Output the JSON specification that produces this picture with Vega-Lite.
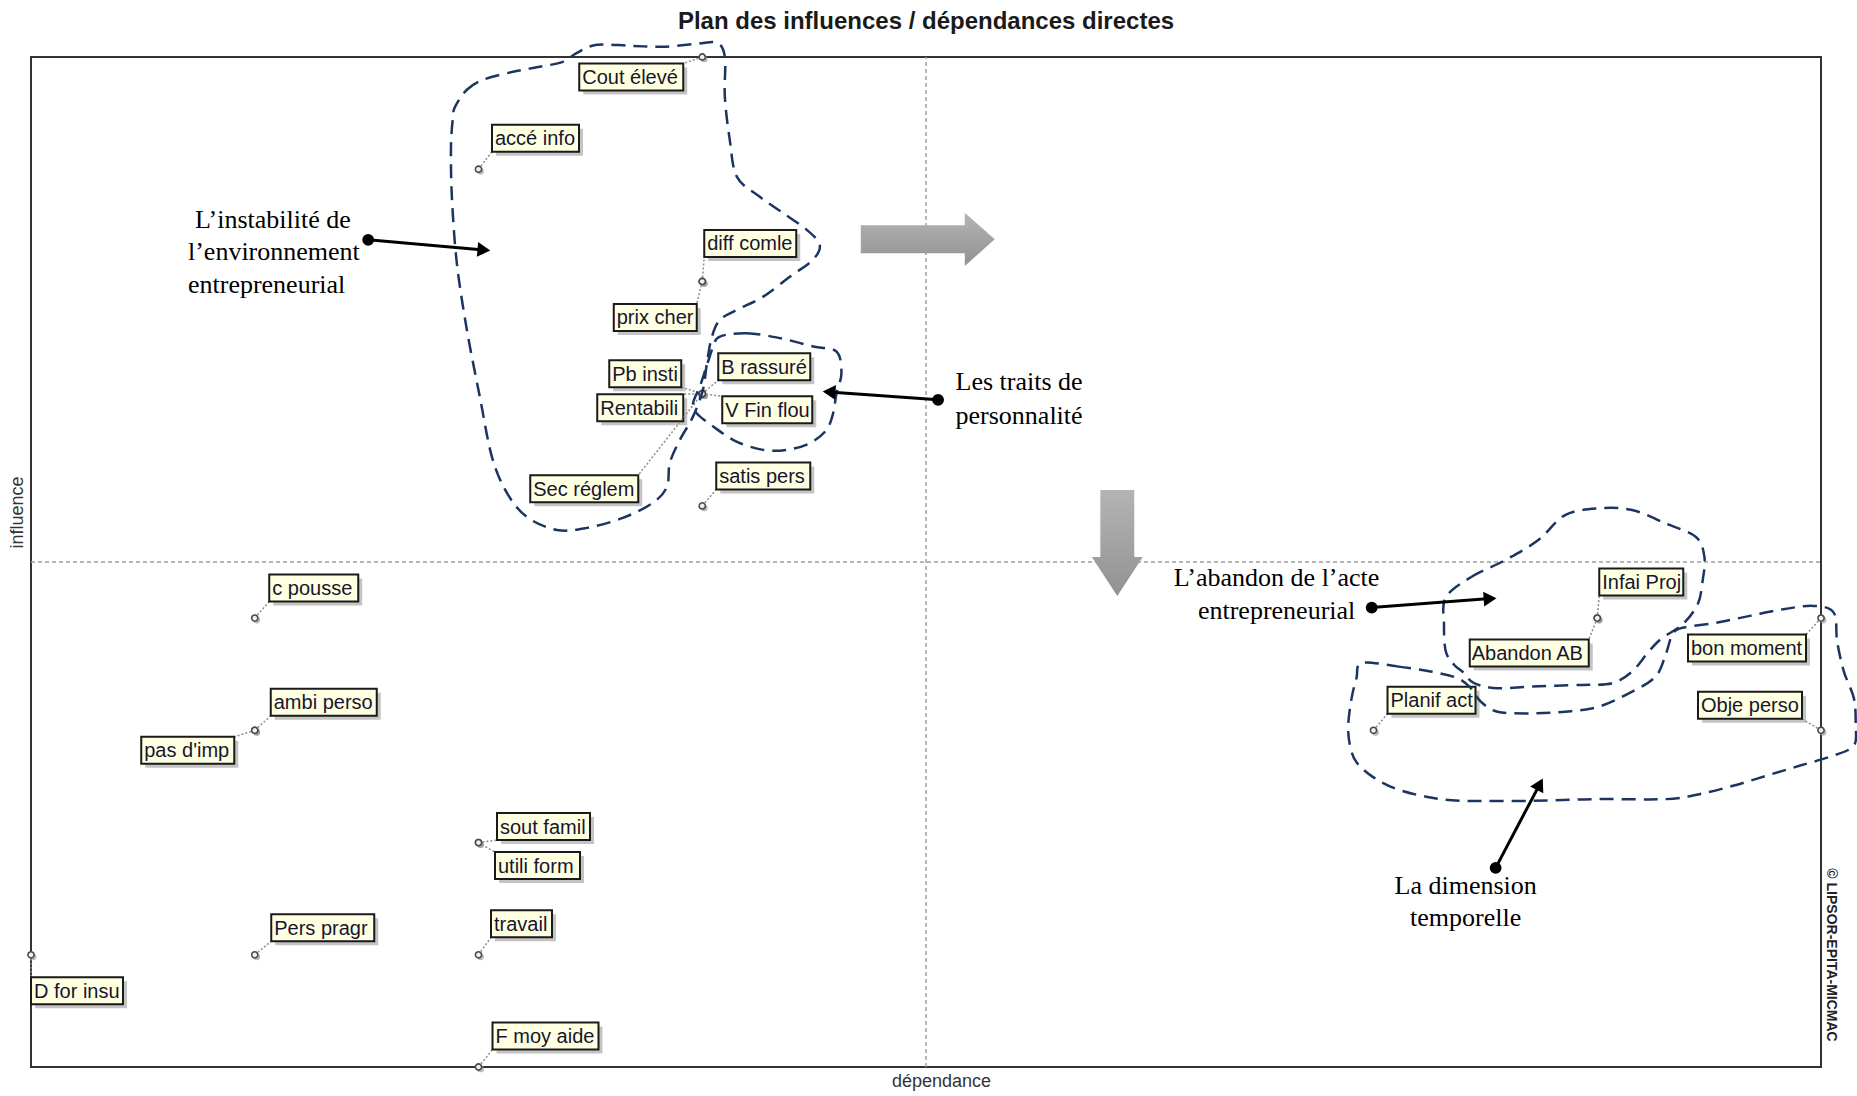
{
"$schema":"https://vega.github.io/schema/vega-lite/v6.json",
"width":1790,"height":1010,
"autosize":{"type":"none"},
"padding":{"left":31,"top":57,"right":36,"bottom":29},
"background":"white",
"title":{"text":"Plan des influences / dépendances directes","font":"Liberation Sans Narrow, Arial Narrow, Liberation Sans","fontSize":24,"fontWeight":"bold","color":"#1a1a1a","anchor":"middle","frame":"group","offset":3},
"config":{"view":{"stroke":"#333333","strokeWidth":2},"point":{"opacity":1},"text":{"font":"Liberation Sans","fontSize":20,"color":"#161630"}},
"datasets":{
"vars":[{"label":"Cout élevé","dep":3,"inf":9},{"label":"accé info","dep":2,"inf":8},{"label":"diff comle","dep":3,"inf":7},{"label":"prix cher","dep":3,"inf":7},{"label":"Pb insti","dep":3,"inf":6},{"label":"Rentabili","dep":3,"inf":6},{"label":"B rassuré","dep":3,"inf":6},{"label":"V Fin flou","dep":3,"inf":6},{"label":"Sec réglem","dep":3,"inf":6},{"label":"satis pers","dep":3,"inf":5},{"label":"c pousse","dep":1,"inf":4},{"label":"ambi perso","dep":1,"inf":3},{"label":"pas d'imp","dep":1,"inf":3},{"label":"sout famil","dep":2,"inf":2},{"label":"utili form","dep":2,"inf":2},{"label":"Pers pragr","dep":1,"inf":1},{"label":"travail","dep":2,"inf":1},{"label":"D for insu","dep":0,"inf":1},{"label":"F moy aide","dep":2,"inf":0},{"label":"Infai Proj","dep":7,"inf":4},{"label":"Abandon AB","dep":7,"inf":4},{"label":"bon moment","dep":8,"inf":4},{"label":"Obje perso","dep":8,"inf":3},{"label":"Planif act","dep":6,"inf":3}],
"mid":[{"dep":4,"inf":0,"dep2":4,"inf2":9},{"dep":0,"inf":4.5,"dep2":8,"inf2":4.5}],
"blocks":[{"b":"right","dep":4.008,"inf":7.375},{"b":"down","dep":4.855,"inf":4.670}],
"arrows":[{"dep":1.507,"inf":7.371,"dep2":2.024,"inf2":7.280},{"dep":4.054,"inf":5.945,"dep2":3.567,"inf2":6.015},{"dep":5.992,"inf":4.094,"dep2":6.521,"inf2":4.174},{"dep":6.546,"inf":1.774,"dep2":6.743,"inf2":2.520}],
"heads":[{"a":"instab","dep":2.024,"inf":7.280},{"a":"traits","dep":3.567,"inf":6.015},{"a":"abandon","dep":6.521,"inf":4.174},{"a":"dimension","dep":6.743,"inf":2.520}],
"notes":[{"g":"instab","t":"L’instabilité  de","dep":0.733,"inf":7.549},{"g":"instab","t":"l’environnement","dep":0.7015,"inf":7.264},{"g":"instab","t":"entrepreneurial","dep":0.7015,"inf":6.970},{"g":"traits","t":"Les traits de","dep":4.132,"inf":6.101},{"g":"traits","t":"personnalité","dep":4.132,"inf":5.805},{"g":"abandon","t":"L’abandon de l’acte","dep":5.567,"inf":4.358},{"g":"abandon","t":"entrepreneurial","dep":5.567,"inf":4.064},{"g":"dimension","t":"La dimension","dep":6.412,"inf":1.613},{"g":"dimension","t":"temporelle","dep":6.412,"inf":1.328},{"g":"copy","t":"© LIPSOR-EPITA-MICMAC","dep":8.043,"inf":0.998}],
"curves":[
{"c":"instab","o":1,"dep":1.895,"inf":8.556},{"c":"instab","o":2,"dep":1.948,"inf":8.708},{"c":"instab","o":3,"dep":2.020,"inf":8.797},{"c":"instab","o":4,"dep":2.154,"inf":8.868},{"c":"instab","o":5,"dep":2.274,"inf":8.913},{"c":"instab","o":6,"dep":2.377,"inf":8.957},{"c":"instab","o":7,"dep":2.440,"inf":9.037},{"c":"instab","o":8,"dep":2.529,"inf":9.109},{"c":"instab","o":9,"dep":2.677,"inf":9.100},{"c":"instab","o":10,"dep":2.824,"inf":9.091},{"c":"instab","o":11,"dep":2.976,"inf":9.118},{"c":"instab","o":12,"dep":3.065,"inf":9.127},{"c":"instab","o":13,"dep":3.101,"inf":9.002},{"c":"instab","o":14,"dep":3.101,"inf":8.645},{"c":"instab","o":15,"dep":3.123,"inf":8.262},{"c":"instab","o":16,"dep":3.155,"inf":7.932},{"c":"instab","o":17,"dep":3.257,"inf":7.754},{"c":"instab","o":18,"dep":3.360,"inf":7.611},{"c":"instab","o":19,"dep":3.467,"inf":7.460},{"c":"instab","o":20,"dep":3.525,"inf":7.326},{"c":"instab","o":21,"dep":3.494,"inf":7.193},{"c":"instab","o":22,"dep":3.391,"inf":7.041},{"c":"instab","o":23,"dep":3.271,"inf":6.863},{"c":"instab","o":24,"dep":3.155,"inf":6.747},{"c":"instab","o":25,"dep":3.079,"inf":6.658},{"c":"instab","o":26,"dep":3.043,"inf":6.506},{"c":"instab","o":27,"dep":3.021,"inf":6.275},{"c":"instab","o":28,"dep":3.003,"inf":6.034},{"c":"instab","o":29,"dep":2.958,"inf":5.793},{"c":"instab","o":30,"dep":2.900,"inf":5.588},{"c":"instab","o":31,"dep":2.855,"inf":5.383},{"c":"instab","o":32,"dep":2.842,"inf":5.169},{"c":"instab","o":33,"dep":2.779,"inf":5.027},{"c":"instab","o":34,"dep":2.645,"inf":4.893},{"c":"instab","o":35,"dep":2.484,"inf":4.804},{"c":"instab","o":36,"dep":2.350,"inf":4.786},{"c":"instab","o":37,"dep":2.216,"inf":4.902},{"c":"instab","o":38,"dep":2.127,"inf":5.116},{"c":"instab","o":39,"dep":2.060,"inf":5.437},{"c":"instab","o":40,"dep":2.006,"inf":5.971},{"c":"instab","o":41,"dep":1.948,"inf":6.569},{"c":"instab","o":42,"dep":1.903,"inf":7.166},{"c":"instab","o":43,"dep":1.881,"inf":7.754},{"c":"instab","o":44,"dep":1.877,"inf":8.200},{"c":"instab","o":45,"dep":1.886,"inf":8.467},
{"c":"traits","o":1,"dep":3.079,"inf":6.509},{"c":"traits","o":2,"dep":3.198,"inf":6.539},{"c":"traits","o":3,"dep":3.347,"inf":6.495},{"c":"traits","o":4,"dep":3.496,"inf":6.420},{"c":"traits","o":5,"dep":3.600,"inf":6.375},{"c":"traits","o":6,"dep":3.622,"inf":6.183},{"c":"traits","o":7,"dep":3.600,"inf":6.004},{"c":"traits","o":8,"dep":3.585,"inf":5.826},{"c":"traits","o":9,"dep":3.555,"inf":5.677},{"c":"traits","o":10,"dep":3.481,"inf":5.559},{"c":"traits","o":11,"dep":3.377,"inf":5.499},{"c":"traits","o":12,"dep":3.272,"inf":5.499},{"c":"traits","o":13,"dep":3.153,"inf":5.573},{"c":"traits","o":14,"dep":3.049,"inf":5.707},{"c":"traits","o":15,"dep":2.975,"inf":5.826},{"c":"traits","o":16,"dep":2.959,"inf":5.915},{"c":"traits","o":17,"dep":2.989,"inf":6.063},{"c":"traits","o":18,"dep":3.019,"inf":6.242},{"c":"traits","o":19,"dep":3.049,"inf":6.420},
{"c":"abandon","o":1,"dep":6.323,"inf":4.184},{"c":"abandon","o":2,"dep":6.435,"inf":4.364},{"c":"abandon","o":3,"dep":6.585,"inf":4.513},{"c":"abandon","o":4,"dep":6.735,"inf":4.693},{"c":"abandon","o":5,"dep":6.856,"inf":4.918},{"c":"abandon","o":6,"dep":7.006,"inf":4.978},{"c":"abandon","o":7,"dep":7.156,"inf":4.963},{"c":"abandon","o":8,"dep":7.306,"inf":4.843},{"c":"abandon","o":9,"dep":7.441,"inf":4.723},{"c":"abandon","o":10,"dep":7.479,"inf":4.544},{"c":"abandon","o":11,"dep":7.471,"inf":4.333},{"c":"abandon","o":12,"dep":7.449,"inf":4.124},{"c":"abandon","o":13,"dep":7.381,"inf":3.944},{"c":"abandon","o":14,"dep":7.291,"inf":3.824},{"c":"abandon","o":15,"dep":7.231,"inf":3.705},{"c":"abandon","o":16,"dep":7.156,"inf":3.525},{"c":"abandon","o":17,"dep":7.066,"inf":3.420},{"c":"abandon","o":18,"dep":6.931,"inf":3.405},{"c":"abandon","o":19,"dep":6.706,"inf":3.390},{"c":"abandon","o":20,"dep":6.555,"inf":3.375},{"c":"abandon","o":21,"dep":6.450,"inf":3.420},{"c":"abandon","o":22,"dep":6.405,"inf":3.510},{"c":"abandon","o":23,"dep":6.360,"inf":3.585},{"c":"abandon","o":24,"dep":6.323,"inf":3.705},{"c":"abandon","o":25,"dep":6.315,"inf":3.944},
{"c":"temp","o":1,"dep":5.947,"inf":3.600},{"c":"temp","o":2,"dep":6.105,"inf":3.570},{"c":"temp","o":3,"dep":6.255,"inf":3.525},{"c":"temp","o":4,"dep":6.375,"inf":3.465},{"c":"temp","o":5,"dep":6.435,"inf":3.375},{"c":"temp","o":6,"dep":6.480,"inf":3.255},{"c":"temp","o":7,"dep":6.555,"inf":3.166},{"c":"temp","o":8,"dep":6.706,"inf":3.151},{"c":"temp","o":9,"dep":6.856,"inf":3.166},{"c":"temp","o":10,"dep":7.006,"inf":3.210},{"c":"temp","o":11,"dep":7.156,"inf":3.345},{"c":"temp","o":12,"dep":7.261,"inf":3.480},{"c":"temp","o":13,"dep":7.306,"inf":3.675},{"c":"temp","o":14,"dep":7.336,"inf":3.855},{"c":"temp","o":15,"dep":7.381,"inf":3.914},{"c":"temp","o":16,"dep":7.532,"inf":3.959},{"c":"temp","o":17,"dep":7.682,"inf":4.020},{"c":"temp","o":18,"dep":7.832,"inf":4.079},{"c":"temp","o":19,"dep":7.967,"inf":4.109},{"c":"temp","o":20,"dep":8.057,"inf":4.049},{"c":"temp","o":21,"dep":8.072,"inf":3.794},{"c":"temp","o":22,"dep":8.102,"inf":3.525},{"c":"temp","o":23,"dep":8.147,"inf":3.285},{"c":"temp","o":24,"dep":8.155,"inf":3.045},{"c":"temp","o":25,"dep":8.147,"inf":2.865},{"c":"temp","o":26,"dep":8.057,"inf":2.776},{"c":"temp","o":27,"dep":7.907,"inf":2.686},{"c":"temp","o":28,"dep":7.757,"inf":2.596},{"c":"temp","o":29,"dep":7.607,"inf":2.506},{"c":"temp","o":30,"dep":7.456,"inf":2.431},{"c":"temp","o":31,"dep":7.306,"inf":2.387},{"c":"temp","o":32,"dep":7.006,"inf":2.387},{"c":"temp","o":33,"dep":6.706,"inf":2.372},{"c":"temp","o":34,"dep":6.405,"inf":2.372},{"c":"temp","o":35,"dep":6.255,"inf":2.401},{"c":"temp","o":36,"dep":6.105,"inf":2.476},{"c":"temp","o":37,"dep":6.000,"inf":2.581},{"c":"temp","o":38,"dep":5.924,"inf":2.716},{"c":"temp","o":39,"dep":5.895,"inf":2.865},{"c":"temp","o":40,"dep":5.887,"inf":3.045},{"c":"temp","o":41,"dep":5.902,"inf":3.285},{"c":"temp","o":42,"dep":5.924,"inf":3.465}
]
},
"encoding":{
"x":{"field":"dep","type":"quantitative","scale":{"domain":[0,8],"nice":false,"zero":false},"axis":{"title":"dépendance","domain":false,"ticks":false,"labels":false,"grid":false,"titleFont":"Liberation Sans","titleFontSize":18,"titleFontWeight":"normal","titleColor":"#333333","titleX":910,"titleY":14,"titleBaseline":"middle","titleAlign":"center"}},
"y":{"field":"inf","type":"quantitative","scale":{"domain":[0,9],"nice":false,"zero":false},"axis":{"title":"influence","domain":false,"ticks":false,"labels":false,"grid":false,"titleFont":"Liberation Sans","titleFontSize":18,"titleFontWeight":"normal","titleColor":"#333333","titleX":-14,"titleY":455,"titleAngle":-90,"titleBaseline":"middle","titleAlign":"center"}}
},
"layer":[
{"data":{"name":"mid"},"mark":{"type":"rule","color":"#a0a0a0","strokeDash":[4,3],"strokeWidth":1.5},"encoding":{"x2":{"field":"dep2"},"y2":{"field":"inf2"}}},
{"data":{"name":"blocks"},"transform":[{"filter":{"field":"b","equal":"right"}}],"mark":{"type":"point","shape":"M-1,-0.209L0.552,-0.209L0.552,-0.396L1,0L0.552,0.396L0.552,0.209L-1,0.209Z","size":17956,"filled":true,"opacity":1,"strokeWidth":0,"fill":{"gradient":"linear","x1":0,"y1":0,"x2":0,"y2":1,"stops":[{"offset":0,"color":"#b4b4b4"},{"offset":1,"color":"#929292"}]}}},
{"data":{"name":"blocks"},"transform":[{"filter":{"field":"b","equal":"down"}}],"mark":{"type":"point","shape":"M-0.32,-1L0.32,-1L0.32,0.264L0.481,0.264L0,1L-0.481,0.264L-0.32,0.264Z","size":11236,"filled":true,"opacity":1,"strokeWidth":0,"fill":{"gradient":"linear","x1":0,"y1":0,"x2":0,"y2":1,"stops":[{"offset":0,"color":"#b4b4b4"},{"offset":1,"color":"#929292"}]}}},
{"data":{"name":"vars"},"transform":[{"filter":{"field":"label","equal":"Cout élevé"}}],"layer":[
{"mark":{"type":"rule","color":"#8c8c8c","strokeDash":[2,2],"strokeWidth":1.5,"x2Offset":-19,"y2Offset":6.5},"encoding":{"x2":{"field":"dep"},"y2":{"field":"inf"}}},
{"mark":{"type":"point","shape":"M-1,-0.2596L1,-0.2596L1,0.2596L-1,0.2596Z","size":10816,"filled":true,"color":"#8a8a8a","opacity":0.5,"xOffset":-67,"yOffset":24}},
{"mark":{"type":"point","shape":"M-1,-0.2596L1,-0.2596L1,0.2596L-1,0.2596Z","size":10816,"filled":true,"fill":"#FFFFE1","stroke":"#1a1a1a","strokeWidth":2,"opacity":1,"xOffset":-71,"yOffset":20}},
{"mark":{"type":"text","align":"left","baseline":"middle","dx":-120,"dy":21},"encoding":{"text":{"field":"label"}}}]},
{"data":{"name":"vars"},"transform":[{"filter":{"field":"label","equal":"accé info"}}],"layer":[
{"mark":{"type":"rule","color":"#8c8c8c","strokeDash":[2,2],"strokeWidth":1.5,"x2Offset":13.5,"y2Offset":-17.5},"encoding":{"x2":{"field":"dep"},"y2":{"field":"inf"}}},
{"mark":{"type":"point","shape":"M-1,-0.3103L1,-0.3103L1,0.3103L-1,0.3103Z","size":7569,"filled":true,"color":"#8a8a8a","opacity":0.5,"xOffset":61,"yOffset":-27}},
{"mark":{"type":"point","shape":"M-1,-0.3103L1,-0.3103L1,0.3103L-1,0.3103Z","size":7569,"filled":true,"fill":"#FFFFE1","stroke":"#1a1a1a","strokeWidth":2,"opacity":1,"xOffset":57,"yOffset":-31}},
{"mark":{"type":"text","align":"left","baseline":"middle","dx":16.5,"dy":-30},"encoding":{"text":{"field":"label"}}}]},
{"data":{"name":"vars"},"transform":[{"filter":{"field":"label","equal":"diff comle"}}],"layer":[
{"mark":{"type":"rule","color":"#8c8c8c","strokeDash":[2,2],"strokeWidth":1.5,"x2Offset":2,"y2Offset":-24.5},"encoding":{"x2":{"field":"dep"},"y2":{"field":"inf"}}},
{"mark":{"type":"point","shape":"M-1,-0.2935L1,-0.2935L1,0.2935L-1,0.2935Z","size":8464,"filled":true,"color":"#8a8a8a","opacity":0.5,"xOffset":52,"yOffset":-34}},
{"mark":{"type":"point","shape":"M-1,-0.2935L1,-0.2935L1,0.2935L-1,0.2935Z","size":8464,"filled":true,"fill":"#FFFFE1","stroke":"#1a1a1a","strokeWidth":2,"opacity":1,"xOffset":48,"yOffset":-38}},
{"mark":{"type":"text","align":"left","baseline":"middle","dx":5,"dy":-37},"encoding":{"text":{"field":"label"}}}]},
{"data":{"name":"vars"},"transform":[{"filter":{"field":"label","equal":"prix cher"}}],"layer":[
{"mark":{"type":"rule","color":"#8c8c8c","strokeDash":[2,2],"strokeWidth":1.5,"x2Offset":-5.5,"y2Offset":22.5},"encoding":{"x2":{"field":"dep"},"y2":{"field":"inf"}}},
{"mark":{"type":"point","shape":"M-1,-0.3253L1,-0.3253L1,0.3253L-1,0.3253Z","size":6889,"filled":true,"color":"#8a8a8a","opacity":0.5,"xOffset":-43,"yOffset":40}},
{"mark":{"type":"point","shape":"M-1,-0.3253L1,-0.3253L1,0.3253L-1,0.3253Z","size":6889,"filled":true,"fill":"#FFFFE1","stroke":"#1a1a1a","strokeWidth":2,"opacity":1,"xOffset":-47,"yOffset":36}},
{"mark":{"type":"text","align":"left","baseline":"middle","dx":-85.5,"dy":37},"encoding":{"text":{"field":"label"}}}]},
{"data":{"name":"vars"},"transform":[{"filter":{"field":"label","equal":"Pb insti"}}],"layer":[
{"mark":{"type":"rule","color":"#8c8c8c","strokeDash":[2,2],"strokeWidth":1.5,"x2Offset":-21,"y2Offset":-6.5},"encoding":{"x2":{"field":"dep"},"y2":{"field":"inf"}}},
{"mark":{"type":"point","shape":"M-1,-0.375L1,-0.375L1,0.375L-1,0.375Z","size":5184,"filled":true,"color":"#8a8a8a","opacity":0.5,"xOffset":-53,"yOffset":-16}},
{"mark":{"type":"point","shape":"M-1,-0.375L1,-0.375L1,0.375L-1,0.375Z","size":5184,"filled":true,"fill":"#FFFFE1","stroke":"#1a1a1a","strokeWidth":2,"opacity":1,"xOffset":-57,"yOffset":-20}},
{"mark":{"type":"text","align":"left","baseline":"middle","dx":-90,"dy":-19},"encoding":{"text":{"field":"label"}}}]},
{"data":{"name":"vars"},"transform":[{"filter":{"field":"label","equal":"Rentabili"}}],"layer":[
{"mark":{"type":"rule","color":"#8c8c8c","strokeDash":[2,2],"strokeWidth":1.5,"x2Offset":-19,"y2Offset":0.5},"encoding":{"x2":{"field":"dep"},"y2":{"field":"inf"}}},
{"mark":{"type":"point","shape":"M-1,-0.314L1,-0.314L1,0.314L-1,0.314Z","size":7396,"filled":true,"color":"#8a8a8a","opacity":0.5,"xOffset":-58,"yOffset":18}},
{"mark":{"type":"point","shape":"M-1,-0.314L1,-0.314L1,0.314L-1,0.314Z","size":7396,"filled":true,"fill":"#FFFFE1","stroke":"#1a1a1a","strokeWidth":2,"opacity":1,"xOffset":-62,"yOffset":14}},
{"mark":{"type":"text","align":"left","baseline":"middle","dx":-102,"dy":15},"encoding":{"text":{"field":"label"}}}]},
{"data":{"name":"vars"},"transform":[{"filter":{"field":"label","equal":"B rassuré"}}],"layer":[
{"mark":{"type":"rule","color":"#8c8c8c","strokeDash":[2,2],"strokeWidth":1.5,"x2Offset":16,"y2Offset":-13.5},"encoding":{"x2":{"field":"dep"},"y2":{"field":"inf"}}},
{"mark":{"type":"point","shape":"M-1,-0.2935L1,-0.2935L1,0.2935L-1,0.2935Z","size":8464,"filled":true,"color":"#8a8a8a","opacity":0.5,"xOffset":66,"yOffset":-23}},
{"mark":{"type":"point","shape":"M-1,-0.2935L1,-0.2935L1,0.2935L-1,0.2935Z","size":8464,"filled":true,"fill":"#FFFFE1","stroke":"#1a1a1a","strokeWidth":2,"opacity":1,"xOffset":62,"yOffset":-27}},
{"mark":{"type":"text","align":"left","baseline":"middle","dx":19,"dy":-26},"encoding":{"text":{"field":"label"}}}]},
{"data":{"name":"vars"},"transform":[{"filter":{"field":"label","equal":"V Fin flou"}}],"layer":[
{"mark":{"type":"rule","color":"#8c8c8c","strokeDash":[2,2],"strokeWidth":1.5,"x2Offset":20,"y2Offset":2.5},"encoding":{"x2":{"field":"dep"},"y2":{"field":"inf"}}},
{"mark":{"type":"point","shape":"M-1,-0.3L1,-0.3L1,0.3L-1,0.3Z","size":8100,"filled":true,"color":"#8a8a8a","opacity":0.5,"xOffset":69,"yOffset":20}},
{"mark":{"type":"point","shape":"M-1,-0.3L1,-0.3L1,0.3L-1,0.3Z","size":8100,"filled":true,"fill":"#FFFFE1","stroke":"#1a1a1a","strokeWidth":2,"opacity":1,"xOffset":65,"yOffset":16}},
{"mark":{"type":"text","align":"left","baseline":"middle","dx":23,"dy":17},"encoding":{"text":{"field":"label"}}}]},
{"data":{"name":"vars"},"transform":[{"filter":{"field":"label","equal":"Sec réglem"}}],"layer":[
{"mark":{"type":"rule","color":"#8c8c8c","strokeDash":[2,2],"strokeWidth":1.5,"x2Offset":-64,"y2Offset":81.5},"encoding":{"x2":{"field":"dep"},"y2":{"field":"inf"}}},
{"mark":{"type":"point","shape":"M-1,-0.25L1,-0.25L1,0.25L-1,0.25Z","size":11664,"filled":true,"color":"#8a8a8a","opacity":0.5,"xOffset":-114,"yOffset":99}},
{"mark":{"type":"point","shape":"M-1,-0.25L1,-0.25L1,0.25L-1,0.25Z","size":11664,"filled":true,"fill":"#FFFFE1","stroke":"#1a1a1a","strokeWidth":2,"opacity":1,"xOffset":-118,"yOffset":95}},
{"mark":{"type":"text","align":"left","baseline":"middle","dx":-169,"dy":96},"encoding":{"text":{"field":"label"}}}]},
{"data":{"name":"vars"},"transform":[{"filter":{"field":"label","equal":"satis pers"}}],"layer":[
{"mark":{"type":"rule","color":"#8c8c8c","strokeDash":[2,2],"strokeWidth":1.5,"x2Offset":14,"y2Offset":-16.5},"encoding":{"x2":{"field":"dep"},"y2":{"field":"inf"}}},
{"mark":{"type":"point","shape":"M-1,-0.2872L1,-0.2872L1,0.2872L-1,0.2872Z","size":8836,"filled":true,"color":"#8a8a8a","opacity":0.5,"xOffset":65,"yOffset":-26}},
{"mark":{"type":"point","shape":"M-1,-0.2872L1,-0.2872L1,0.2872L-1,0.2872Z","size":8836,"filled":true,"fill":"#FFFFE1","stroke":"#1a1a1a","strokeWidth":2,"opacity":1,"xOffset":61,"yOffset":-30}},
{"mark":{"type":"text","align":"left","baseline":"middle","dx":17,"dy":-29},"encoding":{"text":{"field":"label"}}}]},
{"data":{"name":"vars"},"transform":[{"filter":{"field":"label","equal":"c pousse"}}],"layer":[
{"mark":{"type":"rule","color":"#8c8c8c","strokeDash":[2,2],"strokeWidth":1.5,"x2Offset":14.5,"y2Offset":-16.5},"encoding":{"x2":{"field":"dep"},"y2":{"field":"inf"}}},
{"mark":{"type":"point","shape":"M-1,-0.3034L1,-0.3034L1,0.3034L-1,0.3034Z","size":7921,"filled":true,"color":"#8a8a8a","opacity":0.5,"xOffset":63,"yOffset":-26}},
{"mark":{"type":"point","shape":"M-1,-0.3034L1,-0.3034L1,0.3034L-1,0.3034Z","size":7921,"filled":true,"fill":"#FFFFE1","stroke":"#1a1a1a","strokeWidth":2,"opacity":1,"xOffset":59,"yOffset":-30}},
{"mark":{"type":"text","align":"left","baseline":"middle","dx":17.5,"dy":-29},"encoding":{"text":{"field":"label"}}}]},
{"data":{"name":"vars"},"transform":[{"filter":{"field":"label","equal":"ambi perso"}}],"layer":[
{"mark":{"type":"rule","color":"#8c8c8c","strokeDash":[2,2],"strokeWidth":1.5,"x2Offset":16,"y2Offset":-14.5},"encoding":{"x2":{"field":"dep"},"y2":{"field":"inf"}}},
{"mark":{"type":"point","shape":"M-1,-0.2547L1,-0.2547L1,0.2547L-1,0.2547Z","size":11236,"filled":true,"color":"#8a8a8a","opacity":0.5,"xOffset":73,"yOffset":-24}},
{"mark":{"type":"point","shape":"M-1,-0.2547L1,-0.2547L1,0.2547L-1,0.2547Z","size":11236,"filled":true,"fill":"#FFFFE1","stroke":"#1a1a1a","strokeWidth":2,"opacity":1,"xOffset":69,"yOffset":-28}},
{"mark":{"type":"text","align":"left","baseline":"middle","dx":19,"dy":-27},"encoding":{"text":{"field":"label"}}}]},
{"data":{"name":"vars"},"transform":[{"filter":{"field":"label","equal":"pas d'imp"}}],"layer":[
{"mark":{"type":"rule","color":"#8c8c8c","strokeDash":[2,2],"strokeWidth":1.5,"x2Offset":-20.5,"y2Offset":6.5},"encoding":{"x2":{"field":"dep"},"y2":{"field":"inf"}}},
{"mark":{"type":"point","shape":"M-1,-0.2903L1,-0.2903L1,0.2903L-1,0.2903Z","size":8649,"filled":true,"color":"#8a8a8a","opacity":0.5,"xOffset":-63,"yOffset":24}},
{"mark":{"type":"point","shape":"M-1,-0.2903L1,-0.2903L1,0.2903L-1,0.2903Z","size":8649,"filled":true,"fill":"#FFFFE1","stroke":"#1a1a1a","strokeWidth":2,"opacity":1,"xOffset":-67,"yOffset":20}},
{"mark":{"type":"text","align":"left","baseline":"middle","dx":-110.5,"dy":21},"encoding":{"text":{"field":"label"}}}]},
{"data":{"name":"vars"},"transform":[{"filter":{"field":"label","equal":"sout famil"}}],"layer":[
{"mark":{"type":"rule","color":"#8c8c8c","strokeDash":[2,2],"strokeWidth":1.5,"x2Offset":18.5,"y2Offset":-2.5},"encoding":{"x2":{"field":"dep"},"y2":{"field":"inf"}}},
{"mark":{"type":"point","shape":"M-1,-0.2903L1,-0.2903L1,0.2903L-1,0.2903Z","size":8649,"filled":true,"color":"#8a8a8a","opacity":0.5,"xOffset":69,"yOffset":-12}},
{"mark":{"type":"point","shape":"M-1,-0.2903L1,-0.2903L1,0.2903L-1,0.2903Z","size":8649,"filled":true,"fill":"#FFFFE1","stroke":"#1a1a1a","strokeWidth":2,"opacity":1,"xOffset":65,"yOffset":-16}},
{"mark":{"type":"text","align":"left","baseline":"middle","dx":21.5,"dy":-15},"encoding":{"text":{"field":"label"}}}]},
{"data":{"name":"vars"},"transform":[{"filter":{"field":"label","equal":"utili form"}}],"layer":[
{"mark":{"type":"rule","color":"#8c8c8c","strokeDash":[2,2],"strokeWidth":1.5,"x2Offset":16.5,"y2Offset":9.5},"encoding":{"x2":{"field":"dep"},"y2":{"field":"inf"}}},
{"mark":{"type":"point","shape":"M-1,-0.3176L1,-0.3176L1,0.3176L-1,0.3176Z","size":7225,"filled":true,"color":"#8a8a8a","opacity":0.5,"xOffset":63,"yOffset":27}},
{"mark":{"type":"point","shape":"M-1,-0.3176L1,-0.3176L1,0.3176L-1,0.3176Z","size":7225,"filled":true,"fill":"#FFFFE1","stroke":"#1a1a1a","strokeWidth":2,"opacity":1,"xOffset":59,"yOffset":23}},
{"mark":{"type":"text","align":"left","baseline":"middle","dx":19.5,"dy":24},"encoding":{"text":{"field":"label"}}}]},
{"data":{"name":"vars"},"transform":[{"filter":{"field":"label","equal":"Pers pragr"}}],"layer":[
{"mark":{"type":"rule","color":"#8c8c8c","strokeDash":[2,2],"strokeWidth":1.5,"x2Offset":16.5,"y2Offset":-13.5},"encoding":{"x2":{"field":"dep"},"y2":{"field":"inf"}}},
{"mark":{"type":"point","shape":"M-1,-0.2621L1,-0.2621L1,0.2621L-1,0.2621Z","size":10609,"filled":true,"color":"#8a8a8a","opacity":0.5,"xOffset":72,"yOffset":-23}},
{"mark":{"type":"point","shape":"M-1,-0.2621L1,-0.2621L1,0.2621L-1,0.2621Z","size":10609,"filled":true,"fill":"#FFFFE1","stroke":"#1a1a1a","strokeWidth":2,"opacity":1,"xOffset":68,"yOffset":-27}},
{"mark":{"type":"text","align":"left","baseline":"middle","dx":19.5,"dy":-26},"encoding":{"text":{"field":"label"}}}]},
{"data":{"name":"vars"},"transform":[{"filter":{"field":"label","equal":"travail"}}],"layer":[
{"mark":{"type":"rule","color":"#8c8c8c","strokeDash":[2,2],"strokeWidth":1.5,"x2Offset":12.5,"y2Offset":-17.5},"encoding":{"x2":{"field":"dep"},"y2":{"field":"inf"}}},
{"mark":{"type":"point","shape":"M-1,-0.4426L1,-0.4426L1,0.4426L-1,0.4426Z","size":3721,"filled":true,"color":"#8a8a8a","opacity":0.5,"xOffset":47,"yOffset":-27}},
{"mark":{"type":"point","shape":"M-1,-0.4426L1,-0.4426L1,0.4426L-1,0.4426Z","size":3721,"filled":true,"fill":"#FFFFE1","stroke":"#1a1a1a","strokeWidth":2,"opacity":1,"xOffset":43,"yOffset":-31}},
{"mark":{"type":"text","align":"left","baseline":"middle","dx":15.5,"dy":-30},"encoding":{"text":{"field":"label"}}}]},
{"data":{"name":"vars"},"transform":[{"filter":{"field":"label","equal":"D for insu"}}],"layer":[
{"mark":{"type":"rule","color":"#8c8c8c","strokeDash":[2,2],"strokeWidth":1.5,"x2Offset":0,"y2Offset":22.5},"encoding":{"x2":{"field":"dep"},"y2":{"field":"inf"}}},
{"mark":{"type":"point","shape":"M-1,-0.2935L1,-0.2935L1,0.2935L-1,0.2935Z","size":8464,"filled":true,"color":"#8a8a8a","opacity":0.5,"xOffset":50,"yOffset":40}},
{"mark":{"type":"point","shape":"M-1,-0.2935L1,-0.2935L1,0.2935L-1,0.2935Z","size":8464,"filled":true,"fill":"#FFFFE1","stroke":"#1a1a1a","strokeWidth":2,"opacity":1,"xOffset":46,"yOffset":36}},
{"mark":{"type":"text","align":"left","baseline":"middle","dx":3,"dy":37},"encoding":{"text":{"field":"label"}}}]},
{"data":{"name":"vars"},"transform":[{"filter":{"field":"label","equal":"F moy aide"}}],"layer":[
{"mark":{"type":"rule","color":"#8c8c8c","strokeDash":[2,2],"strokeWidth":1.5,"x2Offset":14,"y2Offset":-17.5},"encoding":{"x2":{"field":"dep"},"y2":{"field":"inf"}}},
{"mark":{"type":"point","shape":"M-1,-0.2547L1,-0.2547L1,0.2547L-1,0.2547Z","size":11236,"filled":true,"color":"#8a8a8a","opacity":0.5,"xOffset":71,"yOffset":-27}},
{"mark":{"type":"point","shape":"M-1,-0.2547L1,-0.2547L1,0.2547L-1,0.2547Z","size":11236,"filled":true,"fill":"#FFFFE1","stroke":"#1a1a1a","strokeWidth":2,"opacity":1,"xOffset":67,"yOffset":-31}},
{"mark":{"type":"text","align":"left","baseline":"middle","dx":17,"dy":-30},"encoding":{"text":{"field":"label"}}}]},
{"data":{"name":"vars"},"transform":[{"filter":{"field":"label","equal":"Infai Proj"}}],"layer":[
{"mark":{"type":"rule","color":"#8c8c8c","strokeDash":[2,2],"strokeWidth":1.5,"x2Offset":2,"y2Offset":-22.5},"encoding":{"x2":{"field":"dep"},"y2":{"field":"inf"}}},
{"mark":{"type":"point","shape":"M-1,-0.3214L1,-0.3214L1,0.3214L-1,0.3214Z","size":7056,"filled":true,"color":"#8a8a8a","opacity":0.5,"xOffset":48,"yOffset":-32}},
{"mark":{"type":"point","shape":"M-1,-0.3214L1,-0.3214L1,0.3214L-1,0.3214Z","size":7056,"filled":true,"fill":"#FFFFE1","stroke":"#1a1a1a","strokeWidth":2,"opacity":1,"xOffset":44,"yOffset":-36}},
{"mark":{"type":"text","align":"left","baseline":"middle","dx":5,"dy":-35},"encoding":{"text":{"field":"label"}}}]},
{"data":{"name":"vars"},"transform":[{"filter":{"field":"label","equal":"Abandon AB"}}],"layer":[
{"mark":{"type":"rule","color":"#8c8c8c","strokeDash":[2,2],"strokeWidth":1.5,"x2Offset":-8.5,"y2Offset":21.5},"encoding":{"x2":{"field":"dep"},"y2":{"field":"inf"}}},
{"mark":{"type":"point","shape":"M-1,-0.2269L1,-0.2269L1,0.2269L-1,0.2269Z","size":14161,"filled":true,"color":"#8a8a8a","opacity":0.5,"xOffset":-64,"yOffset":39}},
{"mark":{"type":"point","shape":"M-1,-0.2269L1,-0.2269L1,0.2269L-1,0.2269Z","size":14161,"filled":true,"fill":"#FFFFE1","stroke":"#1a1a1a","strokeWidth":2,"opacity":1,"xOffset":-68,"yOffset":35}},
{"mark":{"type":"text","align":"left","baseline":"middle","dx":-125.5,"dy":36},"encoding":{"text":{"field":"label"}}}]},
{"data":{"name":"vars"},"transform":[{"filter":{"field":"label","equal":"bon moment"}}],"layer":[
{"mark":{"type":"rule","color":"#8c8c8c","strokeDash":[2,2],"strokeWidth":1.5,"x2Offset":-15,"y2Offset":16.5},"encoding":{"x2":{"field":"dep"},"y2":{"field":"inf"}}},
{"mark":{"type":"point","shape":"M-1,-0.2288L1,-0.2288L1,0.2288L-1,0.2288Z","size":13924,"filled":true,"color":"#8a8a8a","opacity":0.5,"xOffset":-70,"yOffset":34}},
{"mark":{"type":"point","shape":"M-1,-0.2288L1,-0.2288L1,0.2288L-1,0.2288Z","size":13924,"filled":true,"fill":"#FFFFE1","stroke":"#1a1a1a","strokeWidth":2,"opacity":1,"xOffset":-74,"yOffset":30}},
{"mark":{"type":"text","align":"left","baseline":"middle","dx":-130,"dy":31},"encoding":{"text":{"field":"label"}}}]},
{"data":{"name":"vars"},"transform":[{"filter":{"field":"label","equal":"Obje perso"}}],"layer":[
{"mark":{"type":"rule","color":"#8c8c8c","strokeDash":[2,2],"strokeWidth":1.5,"x2Offset":-19,"y2Offset":-11.5},"encoding":{"x2":{"field":"dep"},"y2":{"field":"inf"}}},
{"mark":{"type":"point","shape":"M-1,-0.2596L1,-0.2596L1,0.2596L-1,0.2596Z","size":10816,"filled":true,"color":"#8a8a8a","opacity":0.5,"xOffset":-67,"yOffset":-21}},
{"mark":{"type":"point","shape":"M-1,-0.2596L1,-0.2596L1,0.2596L-1,0.2596Z","size":10816,"filled":true,"fill":"#FFFFE1","stroke":"#1a1a1a","strokeWidth":2,"opacity":1,"xOffset":-71,"yOffset":-25}},
{"mark":{"type":"text","align":"left","baseline":"middle","dx":-120,"dy":-24},"encoding":{"text":{"field":"label"}}}]},
{"data":{"name":"vars"},"transform":[{"filter":{"field":"label","equal":"Planif act"}}],"layer":[
{"mark":{"type":"rule","color":"#8c8c8c","strokeDash":[2,2],"strokeWidth":1.5,"x2Offset":14,"y2Offset":-16.5},"encoding":{"x2":{"field":"dep"},"y2":{"field":"inf"}}},
{"mark":{"type":"point","shape":"M-1,-0.3068L1,-0.3068L1,0.3068L-1,0.3068Z","size":7744,"filled":true,"color":"#8a8a8a","opacity":0.5,"xOffset":62,"yOffset":-26}},
{"mark":{"type":"point","shape":"M-1,-0.3068L1,-0.3068L1,0.3068L-1,0.3068Z","size":7744,"filled":true,"fill":"#FFFFE1","stroke":"#1a1a1a","strokeWidth":2,"opacity":1,"xOffset":58,"yOffset":-30}},
{"mark":{"type":"text","align":"left","baseline":"middle","dx":17,"dy":-29},"encoding":{"text":{"field":"label"}}}]},
{"data":{"name":"vars"},"mark":{"type":"point","shape":"circle","size":45,"filled":true,"color":"#9a9a9a","opacity":0.7,"xOffset":2,"yOffset":2}},
{"data":{"name":"vars"},"mark":{"type":"point","shape":"circle","size":38,"filled":true,"fill":"#f2f2e6","stroke":"#4a4a4a","strokeWidth":1.6,"opacity":1}},
{"data":{"name":"curves"},"mark":{"type":"line","interpolate":"cardinal-closed","color":"#1c3560","strokeWidth":2.5,"strokeDash":[14,8]},"encoding":{"detail":{"field":"c"},"order":{"field":"o","type":"quantitative"}}},
{"data":{"name":"arrows"},"mark":{"type":"rule","color":"#000000","strokeWidth":3},"encoding":{"x2":{"field":"dep2"},"y2":{"field":"inf2"}}},
{"data":{"name":"arrows"},"mark":{"type":"point","shape":"circle","size":140,"filled":true,"color":"#000000","opacity":1}},
{"data":{"name":"heads"},"transform":[{"filter":{"field":"a","equal":"instab"}}],"mark":{"type":"point","shape":"triangle-right","size":220,"filled":true,"color":"#000000","opacity":1,"angle":5}},
{"data":{"name":"heads"},"transform":[{"filter":{"field":"a","equal":"traits"}}],"mark":{"type":"point","shape":"triangle-right","size":220,"filled":true,"color":"#000000","opacity":1,"angle":184}},
{"data":{"name":"heads"},"transform":[{"filter":{"field":"a","equal":"abandon"}}],"mark":{"type":"point","shape":"triangle-right","size":220,"filled":true,"color":"#000000","opacity":1,"angle":356}},
{"data":{"name":"heads"},"transform":[{"filter":{"field":"a","equal":"dimension"}}],"mark":{"type":"point","shape":"triangle-right","size":220,"filled":true,"color":"#000000","opacity":1,"angle":298}},
{"data":{"name":"notes"},"transform":[{"filter":{"field":"g","oneOf":["instab","traits"]}}],"mark":{"type":"text","align":"left","baseline":"middle","font":"Liberation Serif","fontSize":26,"color":"#000000"},"encoding":{"text":{"field":"t"}}},
{"data":{"name":"notes"},"transform":[{"filter":{"field":"g","oneOf":["abandon","dimension"]}}],"mark":{"type":"text","align":"center","baseline":"middle","font":"Liberation Serif","fontSize":26,"color":"#000000"},"encoding":{"text":{"field":"t"}}},
{"data":{"name":"notes"},"transform":[{"filter":{"field":"g","equal":"copy"}}],"mark":{"type":"text","align":"center","baseline":"middle","angle":90,"font":"Liberation Sans","fontSize":14,"fontWeight":"bold","color":"#222222"},"encoding":{"text":{"field":"t"}}}
]
}
